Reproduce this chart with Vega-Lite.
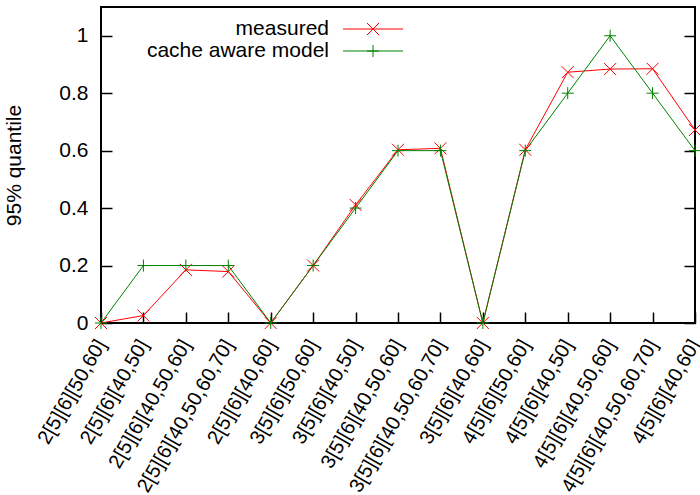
{
  "$schema": "https://vega.github.io/schema/vega-lite/v6.json",
  "width": 594,
  "height": 316,
  "autosize": {"type": "none"},
  "padding": {"left": 101, "top": 7, "right": 5, "bottom": 172},
  "background": "white",
  "config": {
    "font": "Liberation Sans",
    "view": {"stroke": "black", "strokeWidth": 2},
    "axis": {"labelColor": "black", "titleColor": "black", "tickColor": "black", "labelFont": "Liberation Sans", "titleFont": "Liberation Sans"}
  },
  "data": {
    "values": [
      {"label": "2[5][6][50,60]", "series": "measured", "value": 0},
      {"label": "2[5][6][40,50]", "series": "measured", "value": 0.026},
      {"label": "2[5][6][40,50,60]", "series": "measured", "value": 0.185},
      {"label": "2[5][6][40,50,60,70]", "series": "measured", "value": 0.179},
      {"label": "2[5][6][40,60]", "series": "measured", "value": 0},
      {"label": "3[5][6][50,60]", "series": "measured", "value": 0.2},
      {"label": "3[5][6][40,50]", "series": "measured", "value": 0.411},
      {"label": "3[5][6][40,50,60]", "series": "measured", "value": 0.603},
      {"label": "3[5][6][40,50,60,70]", "series": "measured", "value": 0.608},
      {"label": "3[5][6][40,60]", "series": "measured", "value": 0},
      {"label": "4[5][6][50,60]", "series": "measured", "value": 0.603},
      {"label": "4[5][6][40,50]", "series": "measured", "value": 0.873},
      {"label": "4[5][6][40,50,60]", "series": "measured", "value": 0.884},
      {"label": "4[5][6][40,50,60,70]", "series": "measured", "value": 0.885},
      {"label": "4[5][6][40,60]", "series": "measured", "value": 0.672},
      {"label": "2[5][6][50,60]", "series": "cache aware model", "value": 0},
      {"label": "2[5][6][40,50]", "series": "cache aware model", "value": 0.2},
      {"label": "2[5][6][40,50,60]", "series": "cache aware model", "value": 0.2},
      {"label": "2[5][6][40,50,60,70]", "series": "cache aware model", "value": 0.2},
      {"label": "2[5][6][40,60]", "series": "cache aware model", "value": 0},
      {"label": "3[5][6][50,60]", "series": "cache aware model", "value": 0.2},
      {"label": "3[5][6][40,50]", "series": "cache aware model", "value": 0.4},
      {"label": "3[5][6][40,50,60]", "series": "cache aware model", "value": 0.6},
      {"label": "3[5][6][40,50,60,70]", "series": "cache aware model", "value": 0.6},
      {"label": "3[5][6][40,60]", "series": "cache aware model", "value": 0},
      {"label": "4[5][6][50,60]", "series": "cache aware model", "value": 0.6},
      {"label": "4[5][6][40,50]", "series": "cache aware model", "value": 0.8},
      {"label": "4[5][6][40,50,60]", "series": "cache aware model", "value": 1.0},
      {"label": "4[5][6][40,50,60,70]", "series": "cache aware model", "value": 0.8},
      {"label": "4[5][6][40,60]", "series": "cache aware model", "value": 0.6}
    ]
  },
  "encoding": {
    "x": {
      "field": "label", "type": "ordinal", "sort": null,
      "scale": {"type": "point", "padding": 0},
      "axis": {
        "title": null, "domain": false, "grid": false,
        "labelAngle": -60, "labelAlign": "right", "labelBaseline": "middle",
        "labelFontSize": 20, "labelPadding": 29, "labelLimit": 400, "labelOverlap": false,
        "tickSize": -11, "tickWidth": 1.5
      }
    },
    "color": {
      "field": "series", "type": "nominal",
      "scale": {"domain": ["measured", "cache aware model"], "range": ["#ff0000", "#008000"]},
      "legend": {
        "orient": "none", "legendX": 261.5, "legendY": 11.5, "title": null, "padding": 0,
        "symbolSize": 144, "symbolStrokeWidth": 1, "symbolOffset": 0,
        "labelAlign": "right", "labelOffset": -54.5, "labelFontSize": 21, "labelLimit": 400,
        "labelColor": "black", "rowPadding": 0,
        "encode": {
          "symbols": {
            "update": {
              "shape": {"signal": "datum.value === 'measured' ? 'M-5,0L5,0M-1,-1L1,1M1,-1L-1,1' : 'M-5,0L5,0M0,-1L0,1M-1,0L1,0'"},
              "fill": {"value": "transparent"},
              "strokeWidth": {"value": 1}
            }
          }
        }
      }
    }
  },
  "layer": [
    {
      "mark": {"type": "line", "strokeWidth": 1},
      "encoding": {
        "y": {
          "field": "value", "type": "quantitative",
          "scale": {"domain": [0, 1.1], "nice": false},
          "axis": {
            "orient": "left", "values": [0, 0.2, 0.4, 0.6, 0.8, 1], "format": ".1~f",
            "domain": false, "grid": false, "tickSize": -11, "tickWidth": 1.5,
            "labelFontSize": 21, "labelPadding": 24,
            "title": "95% quantile", "titleFontSize": 21, "titleFontWeight": "normal", "titlePadding": 34
          }
        }
      }
    },
    {
      "transform": [{"filter": "datum.series === 'measured'"}],
      "mark": {"type": "point", "filled": false, "strokeWidth": 1, "size": 144, "opacity": 1, "shape": "M-1,-1L1,1M1,-1L-1,1"},
      "encoding": {
        "y": {
          "field": "value", "type": "quantitative",
          "scale": {"domain": [0, 1.1], "nice": false},
          "axis": {
            "orient": "right", "values": [0, 0.2, 0.4, 0.6, 0.8, 1],
            "domain": false, "grid": false, "labels": false, "title": null,
            "tickSize": -11, "tickWidth": 1.5
          }
        }
      }
    },
    {
      "transform": [{"filter": "datum.series === 'cache aware model'"}],
      "mark": {"type": "point", "filled": false, "strokeWidth": 1, "size": 144, "opacity": 1, "shape": "M-1,0L1,0M0,-1L0,1"},
      "encoding": {
        "y": {
          "field": "value", "type": "quantitative",
          "scale": {"domain": [0, 1.1], "nice": false},
          "axis": null
        }
      }
    }
  ],
  "resolve": {"axis": {"y": "independent"}}
}
